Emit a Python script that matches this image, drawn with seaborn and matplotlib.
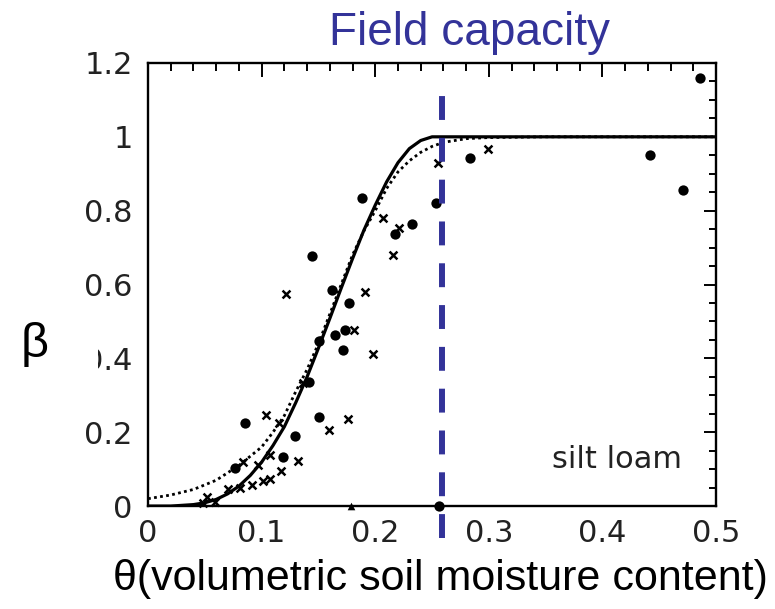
import matplotlib
matplotlib.use("Agg")
import matplotlib.pyplot as plt
from matplotlib.patches import Rectangle
import numpy as np
import pandas as pd
import seaborn as sns

# --- evaporation efficiency curves (silt loam) ---
theta_solid = [0.00, 0.02, 0.04, 0.05, 0.06, 0.07, 0.08, 0.09, 0.10, 0.11, 0.12,
               0.13, 0.14, 0.15, 0.16, 0.17, 0.18, 0.19, 0.20, 0.21, 0.22, 0.23,
               0.24, 0.25, 0.50]
beta_solid = [0.0, 0.0, 0.004, 0.009, 0.018, 0.033, 0.054, 0.083, 0.119, 0.164, 0.215,
              0.28, 0.35, 0.428, 0.508, 0.59, 0.67, 0.747, 0.815, 0.878, 0.93, 0.968,
              0.99, 1.0, 1.0]

theta_dotted = [0.00, 0.02, 0.04, 0.06, 0.08, 0.10, 0.11, 0.12, 0.13, 0.14, 0.15,
                0.16, 0.17, 0.18, 0.19, 0.20, 0.21, 0.22, 0.23, 0.24, 0.25, 0.26,
                0.28, 0.30, 0.35, 0.50]
beta_dotted = [0.02, 0.03, 0.045, 0.07, 0.11, 0.16, 0.20, 0.245, 0.31, 0.37, 0.44,
               0.52, 0.60, 0.68, 0.745, 0.80, 0.86, 0.905, 0.935, 0.958, 0.974, 0.985,
               0.995, 0.998, 1.0, 1.0]

# --- observations ---
theta_dots = [0.0766, 0.0854, 0.1191, 0.1294, 0.142, 0.144, 0.1508, 0.1508, 0.1617,
              0.1646, 0.1719, 0.1734, 0.1773, 0.188, 0.217, 0.232, 0.2535, 0.2565,
              0.283, 0.442, 0.4706, 0.486]
beta_dots = [0.102, 0.224, 0.132, 0.19, 0.337, 0.676, 0.448, 0.24, 0.585,
             0.463, 0.423, 0.477, 0.549, 0.835, 0.737, 0.763, 0.822, 0.0,
             0.942, 0.951, 0.856, 1.16]

theta_cross = [0.0487, 0.0517, 0.059, 0.0707, 0.081, 0.0913, 0.1015, 0.1074, 0.0833,
               0.097, 0.1074, 0.1168, 0.1323, 0.1039, 0.1156, 0.1593, 0.1763, 0.1367,
               0.1215, 0.1813, 0.1977, 0.191, 0.216, 0.207, 0.221, 0.2555, 0.2996]
beta_cross = [0.007, 0.025, 0.012, 0.045, 0.048, 0.057, 0.068, 0.073, 0.12,
              0.111, 0.138, 0.095, 0.123, 0.247, 0.224, 0.206, 0.236, 0.333,
              0.575, 0.477, 0.412, 0.581, 0.68, 0.78, 0.753, 0.93, 0.967]

theta_tri = [0.179]
beta_tri = [0.0]

field_capacity = 0.2585

x_ticks = [0.0, 0.1, 0.2, 0.3, 0.4, 0.5]
x_ticklabels = ["0", "0.1", "0.2", "0.3", "0.4", "0.5"]
y_ticks = [0.0, 0.2, 0.4, 0.6, 0.8, 1.0, 1.2]
y_ticklabels = ["0", "0.2", "0.4", "0.6", "0.8", "1", "1.2"]

sns.set_theme(style="white")
plt.rcParams["font.family"] = ["DejaVu Sans"]

fig = plt.figure(figsize=(7.75, 6.09), dpi=100)
ax = fig.add_axes([0.191, 0.169, 0.733, 0.7276])

solid_df = pd.DataFrame({"theta": theta_solid, "beta": beta_solid})
dotted_df = pd.DataFrame({"theta": theta_dotted, "beta": beta_dotted})
dots_df = pd.DataFrame({"theta": theta_dots, "beta": beta_dots})
cross_df = pd.DataFrame({"theta": theta_cross, "beta": beta_cross})
tri_df = pd.DataFrame({"theta": theta_tri, "beta": beta_tri})

sns.lineplot(data=solid_df, x="theta", y="beta", ax=ax, color="black",
             lw=2.3, sort=False, zorder=3)
sns.lineplot(data=dotted_df, x="theta", y="beta", ax=ax, color="black",
             lw=2.0, sort=False, linestyle=(0, (1, 1.2)), zorder=3)

sns.scatterplot(data=dots_df, x="theta", y="beta", ax=ax, color="black",
                marker="o", s=55, edgecolor="black", linewidth=0, zorder=4,
                clip_on=False)
sns.scatterplot(data=cross_df, x="theta", y="beta", ax=ax, color="black",
                marker="x", s=32, linewidth=1.8, zorder=4, clip_on=False)
sns.scatterplot(data=tri_df, x="theta", y="beta", ax=ax, color="black",
                marker="^", s=30, linewidth=0, zorder=4, clip_on=False)

# field-capacity marker
ax.plot([field_capacity, field_capacity], [-0.087, 1.114], color="#333399",
        lw=4.3, dashes=(4, 3), clip_on=False, zorder=5, solid_capstyle="butt",
        dash_capstyle="butt")

ax.set_xlim(0, 0.5)
ax.set_ylim(0, 1.2)
ax.set_xticks(x_ticks)
ax.set_xticklabels(x_ticklabels)
ax.set_yticks(y_ticks)
ax.set_yticklabels(y_ticklabels)
ax.set_xticks(np.arange(0, 0.501, 0.02), minor=True)
ax.set_yticks(np.arange(0, 1.201, 0.05), minor=True)
ax.set_xlabel("")
ax.set_ylabel("")

ax.tick_params(axis="both", which="both", direction="in", top=True, right=True,
               color="black", width=1.4, labelsize=22, labelcolor="#222222")
ax.tick_params(axis="x", which="major", length=10, pad=9)
ax.tick_params(axis="x", which="minor", length=5.5)
ax.tick_params(axis="y", which="major", length=8.5, pad=11)
ax.tick_params(axis="y", which="minor", length=5)
for sp in ax.spines.values():
    sp.set_visible(True)
    sp.set_color("black")
    sp.set_linewidth(1.7)

ax.text(0.356, 0.103, "silt loam", fontsize=22, color="#222222",
        ha="left", va="baseline", family="DejaVu Sans")

# annotations
fig.text(0.606, 0.926, "Field capacity", fontsize=33, color="#333399",
         ha="center", va="baseline", family=["Liberation Sans", "DejaVu Sans"])
fig.text(0.568, 0.031, "θ(volumetric soil moisture content)", fontsize=31,
         color="black", ha="center", va="baseline",
         family=["Liberation Sans", "DejaVu Sans"])
fig.patches.append(Rectangle((0.07, 0.39), 0.056, 0.055, transform=fig.transFigure,
                             facecolor="white", edgecolor="none", zorder=10))
fig.text(0.0445, 0.414, "β", fontsize=35, color="black", ha="center",
         va="baseline", family=["Liberation Sans", "DejaVu Sans"], zorder=11)

fig.savefig("out.png", dpi=100)
